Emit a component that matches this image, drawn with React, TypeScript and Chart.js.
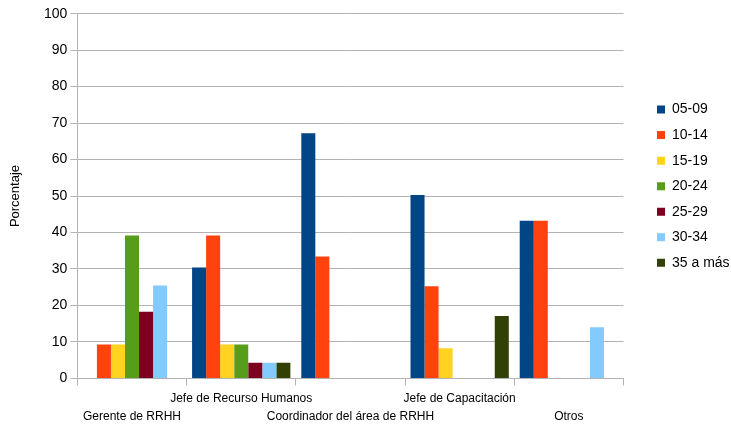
import { useEffect, useRef } from 'react';
import { Chart, registerables } from 'chart.js';

Chart.register(...registerables);

// Job positions (x categories)
const categories = [
  'Gerente de RRHH',
  'Jefe de Recurso Humanos',
  'Coordinador del área de RRHH',
  'Jefe de Capacitación',
  'Otros',
];

// Years-of-experience groups (series)
const ageGroups = ['05-09', '10-14', '15-19', '20-24', '25-29', '30-34', '35 a más'];

// Percentage per position for each group
const pct05to09 = [0, 30.4, 67.2, 50.3, 43.2];
const pct10to14 = [9.3, 39.2, 33.4, 25.3, 43.2];
const pct15to19 = [9.3, 9.3, 0, 8.3, 0];
const pct20to24 = [39.2, 9.3, 0, 0, 0];
const pct25to29 = [18.3, 4.3, 0, 0, 0];
const pct30to34 = [25.5, 4.3, 0, 0, 14.0];
const pct35plus = [0, 4.3, 0, 17.1, 0];

const seriesValues = [pct05to09, pct10to14, pct15to19, pct20to24, pct25to29, pct30to34, pct35plus];
const seriesColors = ['#004586', '#ff420e', '#ffd320', '#579d1c', '#7e0021', '#83caff', '#314004'];

// Value axis
const yMin = 0;
const yMax = 100;
const yStep = 10;
const yTitle = 'Porcentaje';

const GRID = '#b3b3b3';
const FONT = 'Liberation Sans, Arial, sans-serif';

// Alternate labels between two rows so long names don't collide
const staggeredLabels = categories.map((name, i) => (i % 2 === 0 ? ['', name] : [name]));

// Moves the legend block next to the plot area
const legendOffset = {
  id: 'legendOffset',
  afterLayout(chart: any, _args: any, opts: any) {
    const lg = chart.legend;
    if (!lg) return;
    lg.left += opts.x;
    lg.right += opts.x;
    lg.top += opts.y;
    lg.bottom += opts.y;
  },
};

export default function App() {
  const canvasRef = useRef<HTMLCanvasElement | null>(null);

  useEffect(() => {
    const canvas = canvasRef.current;
    if (!canvas) return;

    const chart = new Chart(canvas, {
      type: 'bar',
      data: {
        labels: staggeredLabels,
        datasets: ageGroups.map((label, i) => ({
          label,
          data: seriesValues[i],
          backgroundColor: seriesColors[i],
          borderWidth: 0,
          barPercentage: 1,
          categoryPercentage: 0.9,
        })),
      },
      options: {
        responsive: false,
        animation: false,
        layout: { padding: { top: 13.7, right: 13.4, bottom: -1.4, left: 0 } },
        plugins: {
          legend: {
            position: 'right',
            align: 'start',
            labels: {
              boxWidth: 8,
              boxHeight: 8,
              padding: 11.55,
              color: '#000',
              font: { family: FONT, size: 14 },
            },
          },
          tooltip: { enabled: false },
          legendOffset: { x: 22, y: 77.3 },
        } as any,
        scales: {
          x: {
            offset: true,
            grid: {
              offset: true,
              drawOnChartArea: true,
              color: (ctx: any) => (ctx.index === categories.length ? GRID : 'rgba(0,0,0,0)'),
              tickColor: GRID,
              tickLength: 7,
            },
            border: { display: true, color: GRID },
            ticks: {
              autoSkip: false,
              maxRotation: 0,
              minRotation: 0,
              padding: 4,
              color: '#000',
              font: { family: FONT, size: 12, lineHeight: 1.5 },
            },
          },
          y: {
            min: yMin,
            max: yMax,
            ticks: {
              stepSize: yStep,
              padding: 3,
              color: '#000',
              font: { family: FONT, size: 14 },
            },
            grid: { color: GRID, tickColor: GRID, tickLength: 7 },
            border: { display: true, color: GRID },
            title: {
              display: true,
              text: yTitle,
              color: '#000',
              font: { family: FONT, size: 13 },
              padding: { top: 8, bottom: 17.45 },
            },
          },
        },
      },
      plugins: [legendOffset],
    });

    return () => chart.destroy();
  }, []);

  return (
    <div style={{ position: 'fixed', left: 0, top: 0, width: 731, height: 428, background: '#fff' }}>
      <canvas ref={canvasRef} width={731} height={428} style={{ display: 'block' }} />
    </div>
  );
}
